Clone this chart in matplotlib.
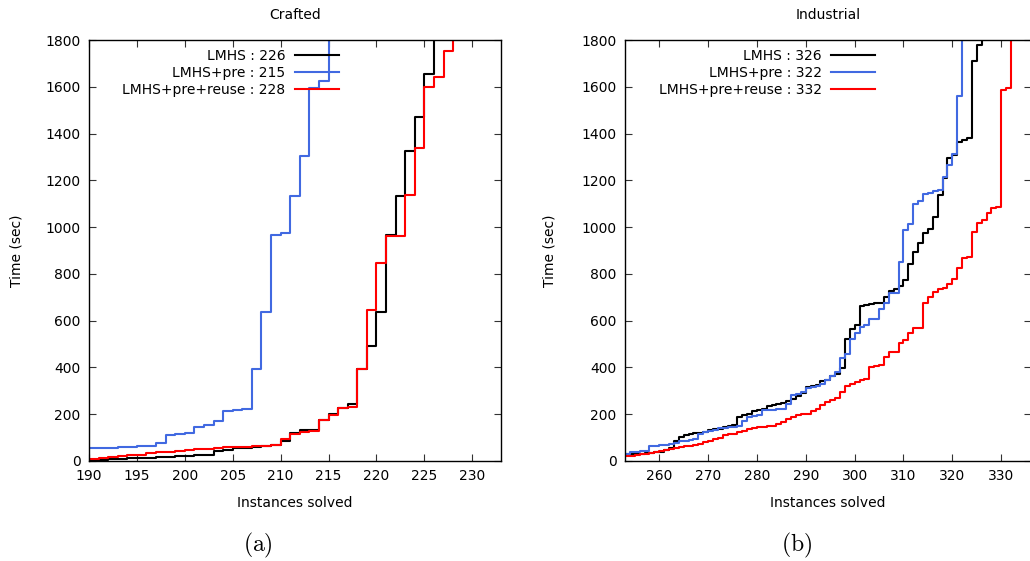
import matplotlib
matplotlib.use("Agg")
import matplotlib.pyplot as plt
import numpy as np

# Crafted panel: sorted solve times, first value belongs to instance 189
crafted_start = 189
crafted_lmhs = [3, 3, 5, 7, 9, 11, 12, 14, 16, 17, 20, 23, 25, 27, 43, 48, 55, 57, 60, 64,
                67, 86, 120, 131, 134, 177, 200, 228, 242, 392, 492, 635, 968, 1135, 1324,
                1472, 1653, 1900]
crafted_pre = [54, 55, 56, 57, 58, 60, 62, 64, 77, 110, 114, 120, 145, 153, 170, 214, 220,
               222, 392, 635, 968, 976, 1133, 1304, 1596, 1625, 1900]
crafted_reuse = [8, 10, 13, 17, 20, 24, 27, 34, 37, 40, 44, 47, 51, 53, 56, 58, 60, 61, 63,
                 66, 70, 93, 114, 124, 127, 177, 195, 225, 230, 392, 645, 845, 961, 961,
                 1136, 1340, 1600, 1643, 1753, 1900]

# Industrial panel: first value belongs to instance 253
industrial_start = 253
industrial_lmhs = [28, 29, 30, 31, 33, 35, 37, 40, 45, 54, 86, 101, 110, 115, 118, 121, 125,
                   132, 135, 138, 144, 148, 154, 190, 195, 199, 212, 217, 221, 236, 240, 245,
                   250, 257, 265, 280, 290, 315, 320, 325, 340, 346, 363, 370, 397, 520, 563,
                   581, 663, 668, 672, 675, 677, 702, 728, 735, 749, 773, 842, 892, 934, 973,
                   991, 1044, 1137, 1211, 1297, 1310, 1365, 1372, 1379, 1710, 1778, 1900]
industrial_pre = [28, 38, 40, 42, 44, 63, 65, 67, 70, 74, 78, 84, 86, 88, 92, 117, 122, 127,
                  132, 141, 143, 145, 146, 148, 170, 188, 193, 198, 217, 218, 220, 222, 224,
                  245, 281, 288, 295, 310, 315, 320, 331, 348, 364, 381, 442, 459, 523, 549,
                  571, 580, 605, 606, 648, 677, 717, 720, 852, 988, 1013, 1099, 1112, 1142,
                  1145, 1156, 1160, 1213, 1265, 1311, 1560, 1900]
industrial_reuse = [21, 23, 25, 28, 31, 34, 38, 43, 47, 51, 55, 60, 63, 66, 70, 74, 80, 86,
                    92, 100, 110, 114, 117, 122, 130, 138, 142, 145, 147, 148, 150, 158, 167,
                    181, 190, 195, 199, 203, 212, 222, 238, 252, 262, 268, 295, 320, 328, 338,
                    345, 352, 402, 405, 410, 446, 465, 465, 503, 517, 546, 567, 567, 677, 700,
                    724, 734, 741, 755, 778, 824, 867, 874, 981, 1016, 1030, 1059, 1080, 1087,
                    1586, 1593, 1900]

labels = ["LMHS", "LMHS+pre", "LMHS+pre+reuse"]
crafted_counts = [226, 215, 228]
industrial_counts = [326, 322, 332]
colors = ["black", "#4169e1", "red"]

fig = plt.figure(figsize=(10.30, 5.61), dpi=100)
ax1 = fig.add_axes([89 / 1030, 1 - 461 / 561, 412 / 1030, 421 / 561])
ax2 = fig.add_axes([625 / 1030, 1 - 461 / 561, 406.5 / 1030, 421 / 561])


def draw(ax, start, series, counts, title, xlim, xticks, leg_x, ylabpad):
    for vals, lab, n, c in zip(series, labels, counts, colors):
        x = np.arange(start, start + len(vals))
        ax.plot(x, vals, drawstyle="steps-post", color=c, lw=1.5,
                label=f"{lab} : {n}")
    ax.set_xlim(*xlim)
    ax.set_ylim(0, 1800)
    ax.set_xticks(xticks)
    ax.set_yticks(np.arange(0, 1801, 200))
    ax.tick_params(direction="in", length=5, width=0.8, top=True, right=True,
                   labelsize=10, pad=6, color="#333333")
    for s in ax.spines.values():
        s.set_linewidth(1.0)
    ax.set_title(title, fontsize=10, pad=15)
    ax.set_xlabel("Instances solved", fontsize=10, labelpad=9)
    ax.set_ylabel("Time (sec)", fontsize=10, labelpad=ylabpad)
    ax.legend(loc="upper right", bbox_to_anchor=(leg_x, 0.978), frameon=False,
              markerfirst=False, fontsize=10, handlelength=3.2, handletextpad=0.65,
              labelspacing=0.2, borderpad=0, borderaxespad=0)


draw(ax1, crafted_start, [crafted_lmhs, crafted_pre, crafted_reuse], crafted_counts,
     "Crafted", (190, 233), np.arange(190, 231, 5), 0.607, 16)
draw(ax2, industrial_start, [industrial_lmhs, industrial_pre, industrial_reuse],
     industrial_counts, "Industrial", (253, 336.2), np.arange(260, 331, 10), 0.616, 18)

fig.text(258 / 1030, 1 - 545 / 561, r"$\mathrm{(a)}$", fontsize=17, math_fontfamily="cm",
         ha="center", va="center")
fig.text(797 / 1030, 1 - 545 / 561, r"$\mathrm{(b)}$", fontsize=17, math_fontfamily="cm",
         ha="center", va="center")

fig.savefig("out.png", dpi=100)
